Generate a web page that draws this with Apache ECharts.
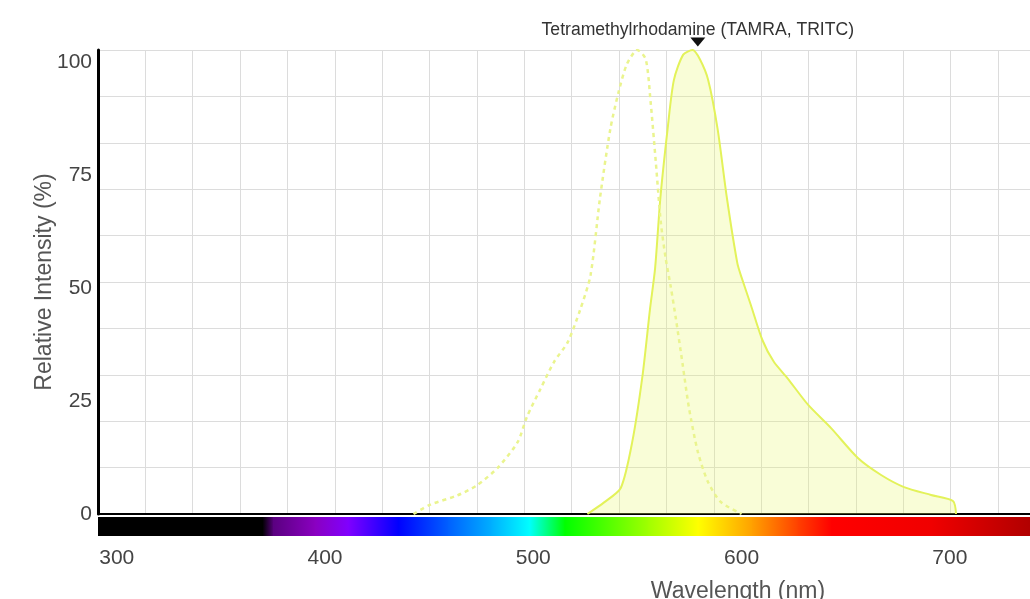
<!DOCTYPE html>
<html>
<head>
<meta charset="utf-8">
<script src="https://cdn.jsdelivr.net/npm/echarts@6/dist/echarts.min.js"></script>
<style>
  html, body { margin: 0; padding: 0; background: #fff; }
  #chart { width: 1030px; height: 599px; }
</style>
</head>
<body>
<div id="chart"></div>
<script>
// emission (solid, filled)
var emWl  = [526, 534, 542, 547.5, 552.5, 556, 558.5, 561, 564.5, 567.5, 572, 576.5, 580, 584, 588.5, 593, 598, 600, 604.5, 610, 615.5, 622, 632, 643, 656, 667, 678, 691, 701.5, 703];
var emVal = [0, 2.5, 5.6, 15.5, 30, 44, 53, 68, 83, 93.5, 99, 100, 98, 93.5, 83, 68, 54, 51, 45, 37.5, 32.8, 29.3, 23.5, 18.5, 12, 8.4, 5.8, 4.1, 2.8, 0];

// excitation (dashed)
var exWl  = [442.5, 450.5, 463.5, 473, 483, 492.5, 497, 503.5, 510, 516.5, 522.5, 527.5, 532, 537, 541, 545, 550, 554, 556.3, 558.8, 561.2, 563.6, 566, 568.5, 571.8, 574.7, 579, 583.8, 590, 600];
var exVal = [0, 2, 4, 6.2, 10, 15.5, 21, 27, 32.8, 37, 44, 51.5, 68, 83, 91, 97, 100, 98, 89, 76, 63, 55, 49, 42, 32, 23, 13.4, 7, 2.6, 0];

var emPeakWl = 579;
var dyeName = 'Tetramethylrhodamine (TAMRA, TRITC)';

var xTicks = [300, 400, 500, 600, 700];
var yTicks = [0, 25, 50, 75, 100];

// colour strip under the axis
var spectrumStops = [
    [291, '#000000'], [370, '#000000'], [375, '#5a0080'], [395, '#8a00c0'],
    [411, '#8000ff'], [435, '#0000ff'], [459, '#0060ff'], [480, '#00b0ff'],
    [498, '#00ffff'], [515, '#00ff00'], [555, '#a0ff00'], [579, '#ffff00'],
    [605, '#ffa000'], [627, '#ff4000'], [643, '#ff0000'], [691, '#f00000'],
    [739, '#b00000']
];

function pairs(xs, ys) {
    return xs.map(function (x, i) { return [x, ys[i]]; });
}

var font = "'Liberation Sans', Arial, sans-serif";
var chart = echarts.init(document.getElementById('chart'));

chart.setOption({
    animation: false,
    grid: { left: 98, right: 0, top: 50, bottom: 85, containLabel: false, outerBoundsMode: 'none' },
    xAxis: [
        {
            type: 'value', min: 291, max: 738.5,
            name: 'Wavelength (nm)', nameLocation: 'middle', nameGap: 66, nameMoveOverlap: false,
            nameTextStyle: { fontSize: 23, color: '#555', fontFamily: font, padding: [0, 0, 0, 348] },
            axisLine: { show: true, onZero: false, lineStyle: { color: '#000', width: 2 } },
            axisTick: { show: false },
            splitLine: { show: false },
            axisLabel: { customValues: xTicks, margin: 34, fontSize: 21, color: '#444', fontFamily: font }
        },
        {
            // decorative vertical grid
            type: 'value', min: 0, max: 19.675, interval: 1,
            axisLine: { show: false }, axisTick: { show: false }, axisLabel: { show: false },
            splitLine: { show: true, lineStyle: { color: '#dcdcdc', width: 1 } }
        }
    ],
    yAxis: [
        {
            type: 'value', min: 0, max: 100, interval: 10,
            axisLine: { show: true, onZero: false, lineStyle: { color: '#000', width: 3 } },
            axisTick: { show: false },
            axisLabel: { show: false },
            splitLine: { show: true, lineStyle: { color: '#dcdcdc', width: 1 } }
        },
        {
            type: 'value', min: 0, max: 102.65, position: 'left',
            name: 'Relative Intensity (%)', nameLocation: 'middle', nameGap: 42, nameMoveOverlap: false,
            nameTextStyle: { fontSize: 23, color: '#555', fontFamily: font },
            axisLine: { show: false }, axisTick: { show: false },
            splitLine: { show: false },
            axisLabel: { customValues: yTicks, margin: 6, fontSize: 21, color: '#444', fontFamily: font }
        }
    ],
    series: [
        {
            type: 'custom',
            silent: true,
            clip: false,
            xAxisIndex: 0, yAxisIndex: 0,
            encode: { x: [0, 1] },
            data: spectrumStops.slice(0, -1).map(function (s, i) { return [s[0], spectrumStops[i + 1][0]]; }),
            renderItem: function (params, api) {
                var i = params.dataIndex;
                var a = api.coord([api.value(0), 0]);
                var b = api.coord([api.value(1), 0]);
                return {
                    type: 'rect',
                    shape: { x: a[0], y: a[1] + 3, width: b[0] - a[0] + 1, height: 19 },
                    style: {
                        fill: new echarts.graphic.LinearGradient(0, 0, 1, 0, [
                            { offset: 0, color: spectrumStops[i][1] },
                            { offset: 1, color: spectrumStops[i + 1][1] }
                        ])
                    }
                };
            }
        },
        {
            name: 'Emission',
            type: 'line',
            xAxisIndex: 0, yAxisIndex: 0,
            data: pairs(emWl, emVal),
            smooth: 0.25,
            symbol: 'none',
            lineStyle: { color: '#e3f25a', width: 2 },
            areaStyle: { color: 'rgba(232,247,110,0.4)' },
            markPoint: {
                silent: true,
                data: [{
                    coord: [emPeakWl, 100],
                    symbol: 'triangle', symbolRotate: 180,
                    symbolSize: [15, 9], symbolOffset: [0, -8],
                    itemStyle: { color: '#111' },
                    label: {
                        show: true, position: 'top', distance: -2,
                        formatter: dyeName,
                        fontSize: 17.6, color: '#333', fontFamily: font
                    }
                }]
            }
        },
        {
            name: 'Excitation',
            type: 'line',
            xAxisIndex: 0, yAxisIndex: 0,
            data: pairs(exWl, exVal),
            smooth: 0.25,
            symbol: 'none',
            z: 3,
            lineStyle: { color: '#eaf48e', width: 2.5, type: [4, 4] }
        }
    ]
});
</script>
</body>
</html>
